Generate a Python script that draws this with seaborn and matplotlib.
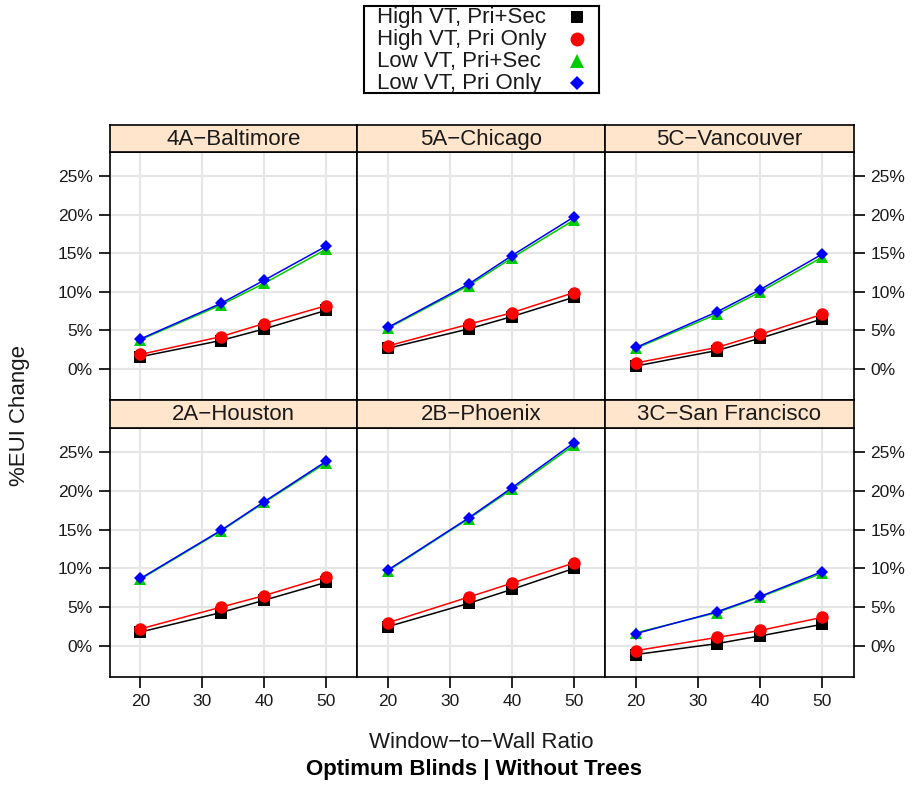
import matplotlib
matplotlib.use("Agg")
import matplotlib.pyplot as plt
from matplotlib.lines import Line2D
import seaborn as sns
import pandas as pd

sns.set_style("white")
plt.rcParams["font.family"] = ["Liberation Sans", "DejaVu Sans"]

# ---------------- data ----------------
wwr = [20, 33, 40, 50]
cities = ["4A−Baltimore", "5A−Chicago", "5C−Vancouver",
          "2A−Houston", "2B−Phoenix", "3C−San Francisco"]
series = ["High VT, Pri+Sec", "High VT, Pri Only", "Low VT, Pri+Sec", "Low VT, Pri Only"]

high_prisec = {
    "4A−Baltimore": [1.6, 3.7, 5.2, 7.6],
    "5A−Chicago": [2.7, 5.2, 6.8, 9.3],
    "5C−Vancouver": [0.4, 2.4, 4.0, 6.5],
    "2A−Houston": [1.8, 4.3, 5.9, 8.2],
    "2B−Phoenix": [2.5, 5.5, 7.3, 10.0],
    "3C−San Francisco": [-1.1, 0.3, 1.3, 2.8],
}
high_prionly = {
    "4A−Baltimore": [1.9, 4.2, 5.9, 8.2],
    "5A−Chicago": [3.0, 5.8, 7.3, 9.9],
    "5C−Vancouver": [0.8, 2.8, 4.5, 7.1],
    "2A−Houston": [2.2, 5.0, 6.5, 8.9],
    "2B−Phoenix": [3.0, 6.3, 8.1, 10.7],
    "3C−San Francisco": [-0.6, 1.1, 2.0, 3.7],
}
low_prisec = {
    "4A−Baltimore": [3.8, 8.3, 11.1, 15.5],
    "5A−Chicago": [5.3, 10.8, 14.4, 19.3],
    "5C−Vancouver": [2.7, 7.1, 10.0, 14.5],
    "2A−Houston": [8.6, 14.8, 18.5, 23.6],
    "2B−Phoenix": [9.7, 16.4, 20.2, 25.9],
    "3C−San Francisco": [1.7, 4.3, 6.3, 9.4],
}
low_prionly = {
    "4A−Baltimore": [3.9, 8.5, 11.5, 15.9],
    "5A−Chicago": [5.4, 11.0, 14.7, 19.7],
    "5C−Vancouver": [2.8, 7.4, 10.3, 14.9],
    "2A−Houston": [8.7, 14.9, 18.6, 23.8],
    "2B−Phoenix": [9.8, 16.5, 20.4, 26.2],
    "3C−San Francisco": [1.6, 4.4, 6.4, 9.6],
}
y_ticks = [0, 5, 10, 15, 20, 25]
x_ticks = [20, 30, 40, 50]

tables = [high_prisec, high_prionly, low_prisec, low_prionly]
rows = []
for s, tab in zip(series, tables):
    for c in cities:
        for x, v in zip(wwr, tab[c]):
            rows.append({"city": c, "series": s, "wwr": x, "eui": v})
df = pd.DataFrame(rows)

colors = {series[0]: "#000000", series[1]: "#ff0000", series[2]: "#00cc00", series[3]: "#0000ff"}
markers = {series[0]: "s", series[1]: "o", series[2]: "^", series[3]: "D"}
msizes = {series[0]: 8, series[1]: 9, series[2]: 9, series[3]: 6}

# ---------------- layout ----------------
W, H = 914, 785
fig = plt.figure(figsize=(W / 100, H / 100), dpi=100)

def rect(x0, y0, x1, y1):
    return [x0 / W, 1 - y1 / H, (x1 - x0) / W, (y1 - y0) / H]

col_x = [(109.5, 357), (357, 605), (605, 853.5)]
row_y = [(152, 400), (428, 677)]
strip_y = [(125, 152), (400, 428)]
strip_color = "#ffe5cc"
grid_color = "#e6e6e6"
txt_color = "#1a1a1a"

for i, city in enumerate(cities):
    r, c = divmod(i, 3)
    x0, x1 = col_x[c]
    y0, y1 = row_y[r]
    ax = fig.add_axes(rect(x0, y0, x1, y1))
    sub = df[df.city == city]
    for s in series:
        d = sub[sub.series == s]
        sns.lineplot(data=d, x="wwr", y="eui", ax=ax, color=colors[s], lw=1.1,
                     marker=markers[s], markersize=msizes[s], markeredgewidth=0,
                     legend=False, errorbar=None, zorder=3)
    ax.set_xlim(15, 55)
    ax.set_ylim(-4, 28.1)
    ax.set_xticks(x_ticks)
    ax.set_yticks(y_ticks)
    ax.grid(True, color=grid_color, lw=1.5, zorder=0)
    ax.set_axisbelow(True)
    ax.set_xlabel("")
    ax.set_ylabel("")
    for sp in ax.spines.values():
        sp.set_color("black")
        sp.set_linewidth(1.2)
    ax.tick_params(axis="both", direction="out", length=8, width=1.2, color="black",
                   labelsize=12.5, pad=4, labelcolor=txt_color)
    if c == 0:
        ax.tick_params(axis="y", left=True, right=False, labelleft=True, labelright=False)
    elif c == 2:
        ax.tick_params(axis="y", left=False, right=True, labelleft=False, labelright=True)
    else:
        ax.tick_params(axis="y", left=False, right=False, labelleft=False, labelright=False)
    ax.set_yticklabels([f"{t}%" for t in y_ticks])
    if r == 1:
        ax.tick_params(axis="x", bottom=True, labelbottom=True)
    else:
        ax.tick_params(axis="x", bottom=False, labelbottom=False)

    # strip
    sy0, sy1 = strip_y[r]
    sax = fig.add_axes(rect(x0, sy0, x1, sy1))
    sax.set_facecolor(strip_color)
    sax.set_xticks([])
    sax.set_yticks([])
    for sp in sax.spines.values():
        sp.set_color("black")
        sp.set_linewidth(1.2)
    sax.text(0.5, 0.47, city, ha="center", va="center", fontsize=16,
             color=txt_color, transform=sax.transAxes)

# axis labels
fig.text(20 / W, 1 - 415 / H, "%EUI Change", rotation=90, ha="center", va="center",
         fontsize=16, color=txt_color)
fig.text(481 / W, 1 - 742 / H, "Window−to−Wall Ratio", ha="center", va="center",
         fontsize=16, color=txt_color)
fig.text(474 / W, 1 - 770 / H, "Optimum Blinds | Without Trees", ha="center", va="center",
         fontsize=16, fontweight="bold", color="black")

# legend (key box drawn in its own axes: text left, symbol right)
lax = fig.add_axes(rect(364, 6, 599, 93))
lax.set_xlim(364, 599)
lax.set_ylim(93, 6)
lax.set_xticks([])
lax.set_yticks([])
for sp in lax.spines.values():
    sp.set_color("black")
    sp.set_linewidth(1.5)
row_centers = [17, 39, 61, 83]
for s, yc in zip(series, row_centers):
    lax.text(377, yc, s, ha="left", va="center", fontsize=16, color=txt_color)
    lax.add_line(Line2D([577], [yc], linestyle="none", marker=markers[s], color=colors[s],
                        markersize=msizes[s] + 1, markeredgewidth=0))

fig.savefig("out.png", dpi=100)
